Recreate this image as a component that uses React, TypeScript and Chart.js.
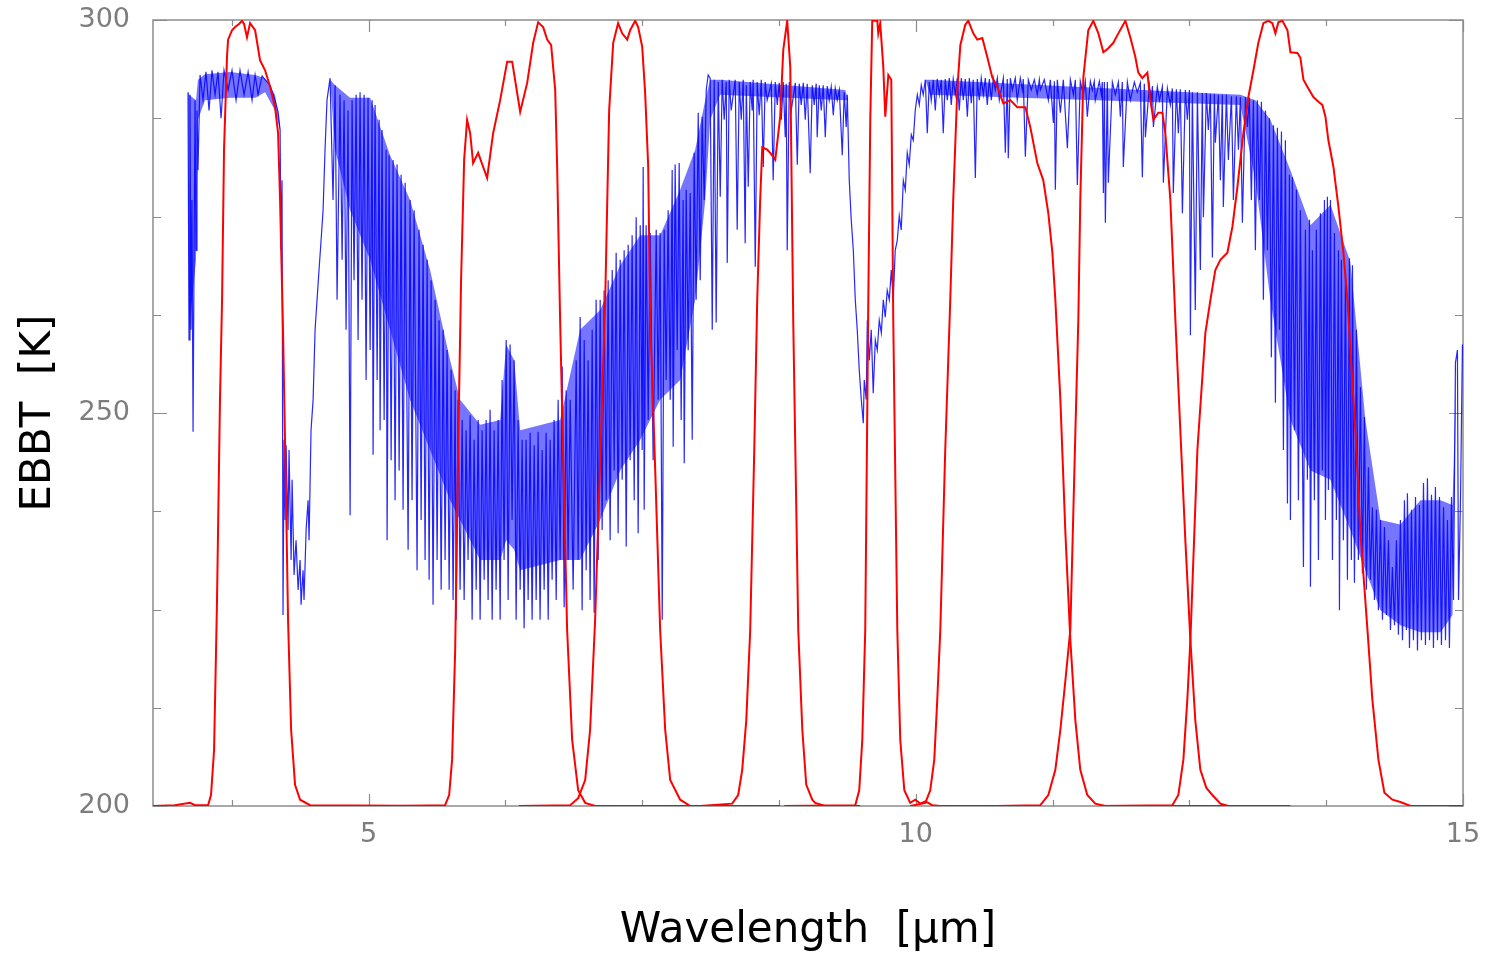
import React, { useEffect, useRef } from 'react';
import { Chart, registerables } from 'chart.js';

Chart.register(...registerables);

// ---------- axes ----------
const xRange = [3.03, 15];
const yRange = [200, 300];
const xLabelTicks = [5, 10, 15];
const xMinorTicks = [3.75, 6.25, 7.5, 8.75, 11.25, 12.5, 13.75];
const yLabelTicks = [200, 250, 300];
const yMinorTicks = [212.5, 225, 237.5, 262.5, 275, 287.5];

// ---------- red: channel response curves, [wavelength um, scaled value K] ----------
const filter1 = [
  [3.03, 200.0], [3.231, 200.1], [3.368, 200.4], [3.414, 200.1], [3.533, 200.1], [3.56, 201.4],
  [3.588, 207.1], [3.615, 226.2], [3.642, 251.7], [3.661, 264.4], [3.679, 283.5], [3.706, 295.3],
  [3.716, 297.5], [3.752, 298.7], [3.78, 299.1], [3.816, 299.5], [3.844, 299.9], [3.862, 299.5],
  [3.889, 297.8], [3.917, 299.6], [3.963, 298.7], [4.008, 294.9], [4.054, 293.6], [4.1, 291.5],
  [4.145, 288.9], [4.173, 285.6], [4.191, 277.1], [4.218, 260.6], [4.246, 238.9], [4.264, 223.7],
  [4.292, 209.7], [4.328, 202.7], [4.374, 200.8], [4.465, 200.1], [5.699, 200.0],
];
const filter2 = [
  [5.288, 200.0], [5.699, 200.1], [5.736, 201.4], [5.763, 205.9], [5.791, 219.8], [5.818, 245.3],
  [5.845, 266.9], [5.873, 282.2], [5.9, 287.3], [5.928, 285.6], [5.955, 281.8], [6.001, 283.1],
  [6.083, 279.9], [6.138, 285.6], [6.202, 289.8], [6.266, 294.7], [6.312, 294.7], [6.385, 288.3],
  [6.449, 292.0], [6.504, 297.1], [6.549, 299.7], [6.595, 299.1], [6.632, 297.5], [6.668, 296.8],
  [6.705, 291.1], [6.723, 281.3], [6.75, 261.8], [6.787, 238.9], [6.814, 222.4], [6.86, 208.4],
  [6.915, 202.0], [6.979, 200.4], [7.07, 200.0], [8.158, 200.0],
];
const filter3 = [
  [6.375, 200.0], [6.842, 200.1], [6.915, 201.0], [6.979, 203.3], [7.024, 209.7], [7.07, 223.7],
  [7.116, 244.0], [7.162, 264.4], [7.198, 288.5], [7.235, 297.1], [7.28, 299.6], [7.317, 298.3],
  [7.363, 297.5], [7.39, 298.7], [7.436, 299.9], [7.463, 299.1], [7.5, 296.6], [7.527, 290.7],
  [7.555, 281.3], [7.573, 261.8], [7.619, 242.7], [7.664, 222.4], [7.71, 209.7], [7.756, 203.3],
  [7.847, 200.8], [7.939, 200.0], [8.761, 200.0],
];
const filter4 = [
  [8.03, 200.0], [8.322, 200.3], [8.377, 201.4], [8.414, 204.6], [8.451, 210.9], [8.487, 222.4],
  [8.524, 245.3], [8.551, 264.4], [8.578, 277.1], [8.597, 283.8], [8.642, 283.5], [8.67, 283.1],
  [8.716, 282.2], [8.761, 287.7], [8.789, 296.2], [8.825, 299.9], [8.853, 294.0], [8.88, 261.8],
  [8.926, 222.4], [8.963, 209.7], [8.999, 202.7], [9.054, 200.8], [9.081, 200.4], [9.173, 200.0],
  [9.492, 200.0],
];
const filter5 = [
  [8.798, 200.0], [9.447, 200.1], [9.483, 202.0], [9.511, 208.4], [9.538, 222.4], [9.566, 264.4],
  [9.584, 287.3], [9.602, 299.9], [9.648, 299.9], [9.657, 298.3], [9.675, 299.6], [9.703, 294.0],
  [9.721, 287.7], [9.749, 293.0], [9.776, 292.4], [9.794, 261.8], [9.831, 222.4], [9.858, 208.4],
  [9.895, 202.0], [9.949, 200.4], [9.995, 200.8], [10.041, 200.3], [10.087, 200.6], [10.151, 200.1],
  [10.224, 200.0], [10.772, 200.0],
];
const filter6 = [
  [9.949, 200.0], [10.087, 200.4], [10.132, 202.0], [10.169, 205.9], [10.196, 213.5], [10.224, 222.4],
  [10.269, 245.3], [10.315, 264.4], [10.342, 277.1], [10.379, 291.1], [10.407, 296.8], [10.452, 299.4],
  [10.48, 299.9], [10.525, 298.3], [10.562, 297.5], [10.608, 297.7], [10.653, 295.3], [10.699, 292.7],
  [10.745, 291.5], [10.8, 289.4], [10.864, 289.8], [10.927, 288.9], [11.001, 288.9], [11.046, 286.4],
  [11.11, 281.8], [11.165, 279.6], [11.211, 275.4], [11.248, 270.4], [11.275, 264.4], [11.321, 251.7],
  [11.367, 234.7], [11.412, 221.1], [11.458, 210.9], [11.503, 204.6], [11.567, 201.4], [11.64, 200.3],
  [11.732, 200.0], [13.24, 200.0],
];
const filter7 = [
  [10.736, 200.0], [11.138, 200.1], [11.211, 201.4], [11.275, 204.6], [11.321, 209.7], [11.367, 216.0],
  [11.412, 222.4], [11.458, 247.5], [11.485, 261.8], [11.503, 277.1], [11.531, 292.7], [11.576, 298.7],
  [11.622, 299.9], [11.668, 298.3], [11.714, 295.9], [11.759, 296.4], [11.805, 297.1], [11.851, 298.3],
  [11.915, 299.9], [11.96, 297.8], [12.006, 295.3], [12.033, 293.3], [12.07, 292.6], [12.116, 293.3],
  [12.143, 289.8], [12.171, 287.3], [12.216, 288.2], [12.253, 288.2], [12.28, 285.6], [12.326, 277.1],
  [12.372, 261.8], [12.417, 247.8], [12.463, 233.8], [12.509, 221.1], [12.554, 210.9], [12.6, 204.6],
  [12.655, 202.3], [12.71, 201.4], [12.783, 200.3], [12.856, 200.0], [13.423, 200.0],
];
const filter8 = [
  [11.686, 200.0], [12.344, 200.1], [12.399, 201.4], [12.445, 205.9], [12.481, 213.5], [12.509, 221.1],
  [12.573, 245.3], [12.646, 260.2], [12.692, 264.4], [12.737, 268.2], [12.783, 269.5], [12.847, 270.4],
  [12.893, 273.7], [12.939, 278.8], [12.993, 285.6], [13.039, 290.2], [13.085, 293.6], [13.13, 297.1],
  [13.176, 299.6], [13.222, 299.9], [13.258, 299.6], [13.286, 298.3], [13.313, 299.7], [13.35, 299.9],
  [13.396, 298.7], [13.423, 295.9], [13.487, 295.8], [13.514, 295.2], [13.542, 292.4], [13.587, 291.3],
  [13.633, 290.2], [13.679, 289.6], [13.715, 289.2], [13.743, 287.7], [13.77, 284.7], [13.816, 281.3],
  [13.862, 276.2], [13.907, 270.4], [13.944, 264.4], [14.017, 247.5], [14.063, 234.7], [14.127, 222.4],
  [14.172, 213.5], [14.227, 205.9], [14.282, 201.7], [14.355, 200.8], [14.428, 200.5], [14.52, 200.0],
  [15.0, 200.0],
];

// ---------- blue: simulated spectrum EBBT, [wavelength um, K] ----------
const blueOnset = [
  [3.35, 290.8], [3.359, 259.3], [3.368, 290.5], [3.377, 260.6], [3.386, 277.1], [3.396, 247.6],
  [3.405, 269.5], [3.414, 289.8], [3.423, 270.7], [3.432, 288.5], [3.441, 280.9],
];
const blueBand4um = [
  [3.46, 293.0], [3.487, 289.8], [3.514, 293.4], [3.542, 288.5], [3.569, 293.6], [3.597, 290.5],
  [3.624, 293.4], [3.652, 287.5], [3.679, 293.6], [3.716, 291.1], [3.752, 293.6], [3.789, 289.8],
  [3.825, 293.6], [3.862, 290.5], [3.899, 293.4], [3.935, 289.8], [3.963, 293.0], [3.99, 290.5],
  [4.027, 292.9], [4.054, 292.4], [4.1, 291.7], [4.145, 289.8], [4.173, 288.3],
];
const blueDip4um = [
  [4.191, 286.0], [4.2, 270.7], [4.209, 279.6], [4.218, 224.3], [4.228, 246.6], [4.237, 236.4],
  [4.246, 245.9], [4.264, 235.1], [4.273, 245.3], [4.292, 231.3], [4.301, 241.5], [4.319, 229.4],
  [4.337, 233.8], [4.356, 227.5], [4.374, 231.3], [4.383, 225.6], [4.401, 230.0], [4.41, 226.2],
  [4.429, 235.1], [4.447, 238.9], [4.456, 233.8], [4.474, 247.8], [4.493, 251.7], [4.511, 260.6],
  [4.529, 264.4], [4.547, 268.2], [4.566, 272.0], [4.584, 275.8], [4.602, 283.5], [4.62, 289.8],
];
const blueWaterA = [
  [4.648, 292.6], [4.675, 277.1], [4.694, 291.7], [4.712, 264.4], [4.739, 290.5], [4.758, 269.5],
  [4.776, 289.8], [4.794, 260.6], [4.812, 288.5], [4.831, 237.0], [4.849, 289.8], [4.867, 266.9],
  [4.886, 290.5], [4.904, 259.3], [4.922, 290.8], [4.94, 264.4], [4.959, 290.5], [4.977, 254.2],
  [4.995, 290.1], [5.014, 258.0], [5.032, 289.8], [5.041, 244.7], [5.059, 289.2], [5.078, 254.2],
  [5.096, 287.3], [5.105, 247.8], [5.123, 286.0], [5.142, 249.1], [5.16, 283.5], [5.169, 233.8],
  [5.187, 282.8], [5.206, 244.0], [5.224, 282.2], [5.242, 238.9], [5.26, 281.6], [5.279, 242.7],
  [5.297, 280.3], [5.315, 237.7], [5.334, 279.3], [5.361, 232.6], [5.379, 277.1], [5.397, 238.9],
  [5.416, 275.8], [5.443, 230.0], [5.461, 273.3], [5.48, 236.4], [5.498, 271.4], [5.516, 231.3],
  [5.535, 269.5], [5.553, 228.8], [5.571, 266.9], [5.589, 225.6], [5.608, 264.4], [5.626, 231.3],
  [5.644, 261.8], [5.663, 227.5], [5.681, 260.6], [5.699, 231.3], [5.717, 258.0], [5.736, 227.5],
  [5.754, 255.5], [5.772, 226.2], [5.791, 252.9], [5.8, 223.7], [5.818, 251.7], [5.836, 227.5],
];
const blueWaterB = [
  [5.855, 249.1], [5.873, 226.2], [5.891, 247.8], [5.909, 231.3], [5.928, 249.7], [5.946, 223.7],
  [5.964, 246.6], [5.983, 227.5], [6.001, 249.1], [6.019, 223.7], [6.037, 247.8], [6.056, 228.8],
  [6.074, 249.1], [6.092, 226.2], [6.11, 250.4], [6.129, 223.7], [6.147, 247.8], [6.165, 227.5],
  [6.184, 249.1], [6.202, 223.7], [6.22, 254.2], [6.238, 231.3], [6.257, 259.3], [6.275, 226.2],
  [6.293, 258.7], [6.311, 236.4], [6.33, 256.7], [6.348, 223.7], [6.366, 249.1], [6.385, 227.5],
  [6.403, 246.6], [6.421, 222.6], [6.439, 246.6], [6.458, 226.2], [6.476, 247.5], [6.494, 223.7],
  [6.513, 245.9], [6.531, 226.2], [6.549, 247.6], [6.567, 223.7], [6.586, 245.3], [6.604, 227.5],
  [6.622, 247.5], [6.641, 223.7], [6.659, 246.6], [6.677, 228.8], [6.695, 249.1], [6.714, 226.2],
  [6.732, 251.7], [6.75, 231.3], [6.769, 255.9], [6.787, 225.3], [6.805, 252.9], [6.823, 231.3],
  [6.842, 251.7], [6.869, 227.5], [6.897, 256.7], [6.915, 231.3], [6.933, 262.2], [6.951, 224.9],
  [6.97, 259.3], [6.988, 230.0], [7.006, 256.7], [7.024, 226.2], [7.043, 260.6], [7.061, 224.6],
  [7.079, 264.4], [7.098, 231.3],
];
const blueWaterC = [
  [7.116, 264.4], [7.134, 235.1], [7.152, 265.6], [7.171, 238.9], [7.189, 266.9], [7.207, 233.8],
  [7.226, 268.2], [7.244, 242.7], [7.262, 270.4], [7.28, 234.7], [7.299, 269.5], [7.317, 241.5],
  [7.335, 270.7], [7.354, 233.0], [7.372, 271.4], [7.39, 244.0], [7.408, 272.6], [7.427, 238.9],
  [7.445, 274.9], [7.463, 234.7], [7.482, 273.9], [7.5, 245.3], [7.509, 281.3], [7.518, 237.7],
  [7.536, 273.9], [7.555, 249.1], [7.573, 272.9], [7.6, 244.0], [7.628, 273.3], [7.646, 251.7],
  [7.664, 272.9], [7.683, 223.7], [7.701, 273.3], [7.719, 254.2], [7.737, 275.8], [7.756, 251.7],
  [7.774, 280.9], [7.783, 245.7], [7.801, 281.6], [7.82, 258.0], [7.838, 281.8], [7.856, 249.1],
  [7.874, 277.1], [7.884, 243.6], [7.902, 278.4], [7.92, 258.0], [7.939, 278.0], [7.957, 246.6],
  [7.975, 283.1], [7.993, 264.4], [8.012, 288.2], [8.03, 266.9], [8.048, 287.7], [8.067, 277.1],
  [8.085, 291.1], [8.103, 293.0],
];
const blueWindow8um = [
  [8.121, 292.6], [8.14, 260.6], [8.158, 292.4], [8.176, 261.5], [8.195, 292.1], [8.213, 277.5],
  [8.231, 292.4], [8.249, 287.3], [8.268, 292.1], [8.277, 269.1], [8.295, 292.4], [8.313, 288.5],
  [8.35, 292.4], [8.368, 273.3], [8.387, 292.1], [8.405, 287.3], [8.423, 292.4], [8.441, 271.6],
  [8.451, 291.7], [8.469, 278.8], [8.487, 292.1], [8.505, 288.5], [8.514, 292.4], [8.533, 268.6],
  [8.551, 292.1], [8.569, 287.9], [8.588, 292.4], [8.606, 281.3], [8.624, 292.1], [8.642, 289.8],
  [8.679, 291.9], [8.697, 279.6], [8.716, 292.1], [8.734, 289.2], [8.752, 292.0], [8.771, 287.3],
  [8.789, 292.1], [8.807, 285.1], [8.816, 291.9], [8.825, 270.7], [8.844, 292.1], [8.862, 288.5],
  [8.899, 292.0], [8.917, 281.6], [8.935, 291.9], [8.953, 289.2], [8.972, 292.0], [8.99, 287.3],
  [9.008, 291.9], [9.035, 280.5], [9.054, 291.7], [9.072, 289.2], [9.09, 291.9], [9.099, 285.1],
  [9.118, 291.7], [9.136, 288.5], [9.154, 291.7], [9.173, 285.1], [9.191, 291.6], [9.209, 289.8],
  [9.227, 291.5], [9.246, 287.9], [9.264, 291.3], [9.282, 289.8], [9.301, 291.1], [9.328, 282.8],
  [9.346, 290.8], [9.364, 286.4],
];
const blueOzoneDip = [
  [9.374, 290.5], [9.392, 279.6], [9.41, 274.6], [9.429, 270.7], [9.447, 264.4], [9.465, 260.6],
  [9.483, 255.5], [9.502, 251.7], [9.52, 248.7], [9.529, 254.2], [9.547, 251.7], [9.557, 261.8],
  [9.575, 256.7], [9.593, 260.6], [9.611, 252.5], [9.63, 259.3], [9.648, 258.0], [9.666, 261.8],
  [9.685, 260.2], [9.703, 264.4], [9.721, 262.2], [9.739, 265.6], [9.758, 264.4], [9.776, 268.2],
  [9.794, 264.4], [9.812, 270.7], [9.831, 272.0], [9.849, 275.1], [9.867, 273.3], [9.886, 279.6],
  [9.904, 278.4], [9.922, 283.1], [9.94, 281.6], [9.959, 285.4], [9.977, 284.7], [9.995, 288.5],
  [10.014, 290.5], [10.032, 289.2], [10.05, 291.7], [10.068, 290.5],
];
const blueWindow11um = [
  [10.087, 292.4], [10.105, 285.6], [10.123, 292.1], [10.141, 289.8], [10.16, 292.4], [10.178, 288.5],
  [10.196, 292.5], [10.215, 290.5], [10.233, 292.4], [10.251, 285.6], [10.269, 292.5], [10.288, 289.8],
  [10.306, 292.6], [10.324, 289.2], [10.342, 292.5], [10.361, 290.5], [10.379, 292.6], [10.397, 288.5],
  [10.416, 292.6], [10.434, 289.8], [10.452, 292.5], [10.471, 287.7], [10.489, 292.6], [10.507, 289.4],
  [10.525, 292.4], [10.544, 279.9], [10.562, 292.5], [10.58, 289.8], [10.598, 292.6], [10.617, 290.5],
  [10.635, 292.6], [10.653, 289.2], [10.672, 292.5], [10.69, 289.8], [10.708, 292.6], [10.726, 291.1],
  [10.745, 292.6], [10.763, 289.8], [10.8, 292.6], [10.818, 283.1], [10.836, 292.5], [10.845, 282.4],
  [10.864, 292.6], [10.882, 291.1], [10.909, 292.6], [10.927, 289.8], [10.955, 292.6], [10.973, 291.1],
  [10.982, 292.5], [11.001, 282.6], [11.028, 292.4], [11.055, 291.1], [11.083, 292.4], [11.11, 290.5],
  [11.129, 292.4], [11.138, 291.1], [11.174, 292.4], [11.211, 289.8], [11.229, 292.4], [11.257, 286.9],
  [11.266, 292.2], [11.275, 278.4], [11.293, 292.4], [11.321, 288.2], [11.348, 292.4], [11.385, 283.7],
  [11.412, 292.4], [11.44, 290.5], [11.458, 292.4], [11.476, 279.0], [11.503, 292.2], [11.531, 290.5],
  [11.549, 292.2], [11.567, 287.7], [11.595, 292.2], [11.613, 291.1], [11.631, 292.2], [11.64, 289.8],
  [11.677, 292.2], [11.695, 290.5], [11.704, 292.1], [11.714, 278.0], [11.723, 292.1], [11.732, 274.2],
  [11.75, 292.1], [11.759, 279.3], [11.796, 292.1], [11.823, 290.5], [11.851, 292.1], [11.869, 287.7],
  [11.887, 292.1], [11.896, 281.3], [11.933, 292.1], [11.96, 289.8], [11.997, 292.1], [12.024, 290.8],
  [12.052, 292.0], [12.07, 280.0], [12.088, 291.9], [12.098, 285.1], [12.134, 291.7], [12.152, 289.8],
  [12.162, 291.6], [12.171, 286.4], [12.207, 291.5], [12.226, 289.8], [12.253, 291.5], [12.262, 279.3],
  [12.299, 291.3], [12.326, 289.2], [12.344, 291.3], [12.353, 278.0], [12.381, 291.2], [12.399, 285.6],
  [12.417, 291.2], [12.436, 275.4], [12.463, 291.1], [12.481, 287.3], [12.5, 291.1], [12.509, 259.9],
  [12.527, 290.8], [12.554, 263.1], [12.573, 290.8], [12.6, 268.2], [12.618, 290.7], [12.628, 274.9],
  [12.655, 290.7], [12.673, 286.0], [12.692, 290.6], [12.71, 269.8], [12.728, 290.6], [12.737, 284.4],
  [12.765, 290.5], [12.783, 279.6], [12.801, 290.5], [12.81, 276.2], [12.838, 290.5], [12.856, 282.2],
  [12.884, 290.3], [12.902, 277.1], [12.929, 290.3], [12.948, 283.5], [12.966, 290.2], [12.984, 274.2],
  [13.012, 290.2], [13.03, 286.4], [13.048, 290.1], [13.066, 277.1],
];
const blueCO2Band = [
  [13.085, 289.8], [13.103, 270.7], [13.121, 289.8], [13.14, 277.1], [13.158, 289.6], [13.176, 264.4],
  [13.195, 288.5], [13.213, 270.7], [13.231, 287.5], [13.249, 257.1], [13.268, 286.6], [13.286, 251.3],
  [13.304, 286.3], [13.323, 260.6], [13.341, 285.8], [13.359, 245.3], [13.377, 284.7], [13.396, 238.5],
  [13.414, 280.3], [13.423, 236.4], [13.441, 280.0], [13.46, 247.8], [13.478, 278.4], [13.496, 238.9],
  [13.514, 275.8], [13.542, 230.4], [13.56, 273.3], [13.578, 241.5], [13.597, 274.6], [13.606, 227.9],
  [13.624, 270.7], [13.642, 238.9], [13.66, 273.3], [13.679, 231.3], [13.697, 275.4], [13.715, 242.7],
  [13.734, 277.1], [13.743, 236.4], [13.761, 277.5], [13.77, 240.2], [13.789, 277.1], [13.807, 231.3],
  [13.825, 272.9], [13.843, 236.4], [13.862, 270.7], [13.871, 224.9], [13.889, 269.5], [13.907, 233.8],
  [13.926, 268.2], [13.944, 228.8], [13.962, 269.7], [13.98, 231.3], [13.99, 268.8], [14.008, 228.4],
  [14.026, 260.6], [14.044, 231.3], [14.063, 253.3], [14.081, 229.6], [14.099, 249.5], [14.117, 227.5],
  [14.136, 243.1], [14.154, 228.8], [14.172, 238.0], [14.191, 226.2], [14.209, 237.7], [14.227, 224.9],
  [14.246, 236.4], [14.264, 223.7], [14.282, 235.5], [14.3, 224.3], [14.319, 233.8], [14.337, 222.4],
  [14.355, 230.4], [14.374, 223.0], [14.392, 233.8], [14.41, 221.8], [14.428, 236.4], [14.447, 221.1],
  [14.465, 238.9], [14.483, 222.4], [14.492, 239.8], [14.511, 220.1], [14.529, 237.7], [14.547, 221.1],
  [14.566, 239.3], [14.584, 219.8], [14.602, 238.3], [14.62, 221.1], [14.639, 241.1], [14.657, 220.5],
  [14.675, 241.7], [14.694, 221.1], [14.712, 239.6], [14.73, 220.1], [14.748, 240.6], [14.767, 221.1],
  [14.785, 239.3], [14.803, 220.5], [14.822, 238.0], [14.84, 221.1], [14.858, 236.4], [14.876, 220.1],
  [14.895, 239.3], [14.913, 226.2], [14.931, 256.4], [14.949, 258.0], [14.959, 226.2], [14.977, 238.9],
  [14.995, 258.7],
];

// dense core of the unresolved line forest: upper and lower edge, same wavelengths
const blueCoreUpper = [
  [3.35, 290.8], [3.359, 290.5], [3.423, 289.8], [3.441, 292.4], [3.505, 293.1], [3.734, 293.4],
  [3.963, 293.0], [4.054, 292.6], [4.145, 290.5], [4.191, 286.6], [4.209, 279.6], [4.648, 292.4],
  [4.694, 291.7], [4.831, 290.1], [5.014, 290.1], [5.196, 282.8], [5.379, 277.1], [5.562, 268.2],
  [5.745, 256.7], [5.836, 251.7], [6.019, 248.5], [6.202, 249.1], [6.257, 258.7], [6.33, 256.7],
  [6.385, 247.8], [6.75, 249.1], [6.933, 260.6], [7.116, 263.1], [7.299, 268.8], [7.482, 272.6],
  [7.664, 272.6], [7.847, 278.4], [7.984, 283.5], [8.076, 289.8], [8.121, 292.4], [8.213, 292.4],
  [9.355, 291.1], [9.383, 289.8], [10.087, 292.4], [10.132, 292.4], [12.966, 290.5], [13.103, 289.8],
  [13.24, 287.3], [13.423, 280.9], [13.606, 273.9], [13.789, 276.5], [13.971, 269.2], [14.108, 249.1],
  [14.246, 236.4], [14.428, 235.8], [14.611, 238.9], [14.794, 238.9], [14.904, 238.3], [14.94, 256.7],
];
const blueCoreLower = [
  [3.35, 290.8], [3.359, 260.6], [3.423, 269.5], [3.441, 287.3], [3.505, 289.8], [3.734, 290.1],
  [3.963, 290.1], [4.054, 290.8], [4.145, 288.5], [4.191, 286.0], [4.209, 279.6], [4.648, 292.4],
  [4.694, 283.5], [4.831, 275.8], [5.014, 269.5], [5.196, 260.6], [5.379, 251.7], [5.562, 245.3],
  [5.745, 238.9], [5.836, 236.4], [6.019, 231.3], [6.202, 231.3], [6.257, 233.8], [6.33, 232.6],
  [6.385, 230.0], [6.75, 231.3], [6.933, 231.3], [7.116, 236.4], [7.299, 242.7], [7.482, 246.6],
  [7.664, 251.7], [7.847, 254.2], [7.984, 264.4], [8.076, 277.1], [8.121, 287.3], [8.213, 290.5],
  [9.355, 289.8], [9.383, 289.8], [10.087, 292.4], [10.132, 290.5], [12.966, 289.2], [13.103, 279.6],
  [13.24, 264.4], [13.423, 249.1], [13.606, 242.7], [13.789, 241.5], [13.971, 235.1], [14.108, 230.0],
  [14.246, 224.9], [14.428, 223.0], [14.611, 222.1], [14.794, 222.1], [14.904, 224.3], [14.94, 256.7],
];

const filters = [filter1, filter2, filter3, filter4, filter5, filter6, filter7, filter8];
const blueSpectrum = [
  ...blueOnset, ...blueBand4um, ...blueDip4um, ...blueWaterA, ...blueWaterB, ...blueWaterC,
  ...blueWindow8um, ...blueOzoneDip, ...blueWindow11um, ...blueCO2Band,
];

const FRAME = '#8c8c8c';

const framePlugin = {
  id: 'frameTicks',
  beforeDatasetsDraw(chart: any) {
    const { ctx, chartArea: a, scales } = chart;
    const xs = scales.x;
    const ys = scales.y;
    ctx.save();
    ctx.strokeStyle = FRAME;
    ctx.lineWidth = 1.5;
    ctx.strokeRect(a.left, a.top, a.right - a.left, a.bottom - a.top);
    ctx.beginPath();
    const xt = (vals: number[], len: number) => {
      vals.forEach((v) => {
        const p = Math.round(xs.getPixelForValue(v)) + 0.5;
        ctx.moveTo(p, a.bottom);
        ctx.lineTo(p, a.bottom - len);
        ctx.moveTo(p, a.top);
        ctx.lineTo(p, a.top + len);
      });
    };
    const yt = (vals: number[], len: number) => {
      vals.forEach((v) => {
        const p = Math.round(ys.getPixelForValue(v)) + 0.5;
        ctx.moveTo(a.left, p);
        ctx.lineTo(a.left + len, p);
        ctx.moveTo(a.right, p);
        ctx.lineTo(a.right - len, p);
      });
    };
    xt(xLabelTicks, 12);
    xt(xMinorTicks, 6);
    yt(yLabelTicks, 14);
    yt(yMinorTicks, 8);
    ctx.lineWidth = 1.2;
    ctx.stroke();
    ctx.restore();
  },
};

const zeroScalePadding = (s: any) => {
  s.paddingTop = 0;
  s.paddingBottom = 0;
  s.paddingLeft = 0;
  s.paddingRight = 0;
};

export default function App() {
  const ref = useRef<HTMLCanvasElement>(null);

  useEffect(() => {
    if (!ref.current) return;
    const toXY = (pts: number[][]) => pts.map(([x, y]) => ({ x, y }));
    const redSets = filters.map((f, i) => ({
      label: `Channel ${i + 1}`,
      data: toXY(f),
      borderColor: '#ff0000',
      borderWidth: 2,
      pointRadius: 0,
      showLine: true,
      tension: 0,
      fill: false,
    }));
    const chart = new Chart(ref.current, {
      type: 'scatter',
      data: {
        datasets: [
          ...redSets,
          {
            label: 'EBBT',
            data: toXY(blueSpectrum),
            borderColor: 'rgba(0,0,255,0.85)',
            borderWidth: 1.2,
            pointRadius: 0,
            showLine: true,
            tension: 0,
            fill: false,
          },
          {
            label: 'EBBT core upper',
            data: toXY(blueCoreUpper),
            borderWidth: 0,
            borderColor: 'rgba(0,0,0,0)',
            backgroundColor: 'rgba(25,25,255,0.6)',
            pointRadius: 0,
            showLine: true,
            tension: 0,
            fill: '+1',
          },
          {
            label: 'EBBT core lower',
            data: toXY(blueCoreLower),
            borderWidth: 0,
            borderColor: 'rgba(0,0,0,0)',
            pointRadius: 0,
            showLine: true,
            tension: 0,
            fill: false,
          },
        ],
      },
      options: {
        animation: false,
        responsive: false,
        events: [],
        layout: { autoPadding: false, padding: { top: 20, right: 25, left: 0, bottom: 0 } },
        plugins: { legend: { display: false }, tooltip: { enabled: false } },
        scales: {
          x: {
            type: 'linear',
            min: xRange[0],
            max: xRange[1],
            grid: { display: false, drawTicks: false },
            border: { display: false },
            afterBuildTicks: (s: any) => {
              s.ticks = xLabelTicks.map((v) => ({ value: v }));
            },
            afterFit: (s: any) => {
              s.height = 150;
              zeroScalePadding(s);
            },
            ticks: {
              color: '#7d7d7d',
              font: { family: 'DejaVu Sans', size: 27 },
              padding: 13,
              maxRotation: 0,
              autoSkip: false,
              callback: (v: any) => String(v),
            },
            title: {
              display: true,
              text: 'Wavelength  [μm]',
              color: '#000000',
              font: { family: 'DejaVu Sans', size: 42 },
              padding: { top: 0, bottom: 0 },
            },
          },
          y: {
            type: 'linear',
            min: yRange[0],
            max: yRange[1],
            grid: { display: false, drawTicks: false },
            border: { display: false },
            afterBuildTicks: (s: any) => {
              s.ticks = yLabelTicks.map((v) => ({ value: v }));
            },
            afterFit: (s: any) => {
              s.width = 153;
              zeroScalePadding(s);
            },
            ticks: {
              color: '#7d7d7d',
              font: { family: 'DejaVu Sans', size: 27 },
              padding: 23,
              autoSkip: false,
              callback: (v: any) => String(v),
            },
            title: {
              display: true,
              text: 'EBBT  [K]',
              color: '#000000',
              font: { family: 'DejaVu Sans', size: 42 },
              padding: { top: 14, bottom: 0 },
            },
          },
        },
      },
      plugins: [framePlugin],
    } as any);
    return () => chart.destroy();
  }, []);

  return (
    <div style={{ position: 'absolute', left: 0, top: 0, width: 1488, height: 956, background: '#ffffff' }}>
      <canvas ref={ref} width={1488} height={956} style={{ display: 'block' }} />
    </div>
  );
}
